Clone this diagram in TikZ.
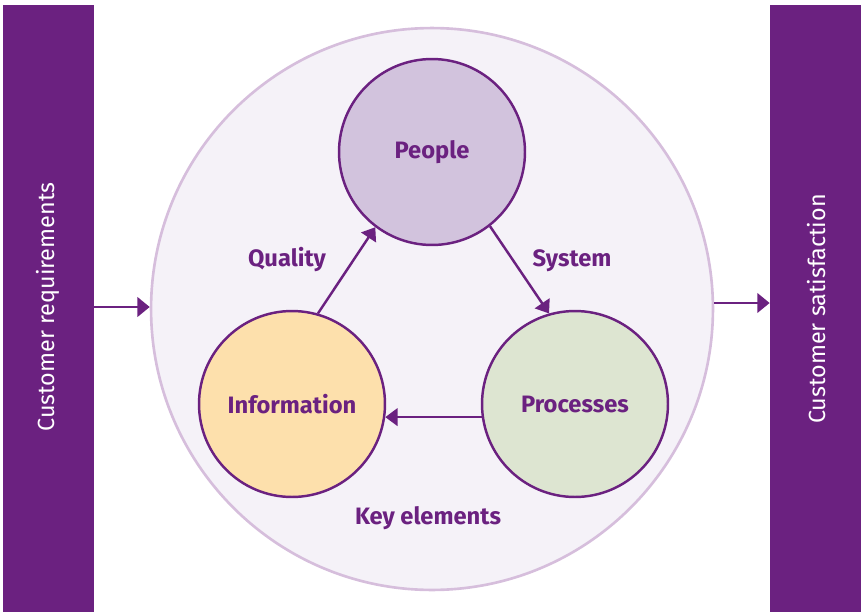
\documentclass[tikz,border=0pt]{standalone}
\usepackage{fontspec}
\setmainfont{Fira Sans}
\usetikzlibrary{arrows.meta}
\definecolor{plum}{HTML}{6B2180}
\definecolor{lilac}{HTML}{D6BEDC}
\definecolor{paleback}{HTML}{F5F2F8}
\definecolor{peoplefill}{HTML}{D2C3DD}
\definecolor{infofill}{HTML}{FDE0AC}
\definecolor{procfill}{HTML}{DDE5D1}

\begin{document}
\begin{tikzpicture}[x=0.02cm,y=-0.02cm,
  bar/.style={fill=plum,minimum width=1.82cm,minimum height=12.14cm,inner sep=0pt},
  bartext/.style={white,font=\fontsize{13.3}{15}\selectfont,rotate=90},
  element/.style={circle,draw=plum,line width=1.4pt,minimum size=3.72cm,inner sep=0pt,
    text=plum,font=\bfseries\fontsize{13.5}{15}\selectfont},
  label/.style={text=plum,font=\bfseries\fontsize{13.5}{15}\selectfont},
  link/.style={plum,line width=1.4pt,-{Triangle[length=7pt,width=10pt]}},
  feed/.style={plum,line width=1.6pt,-{Triangle[length=7pt,width=11pt]}}]

\useasboundingbox (0,0) rectangle (862,612);

%% side bars
\node [bar] (req) at (48.5,308.5) {};
\node [bar] (sat) at (815.5,308.5) {};
\node [bartext] at (48,307) {Customer requirements};
\node [bartext] at (817,309) {Customer satisfaction};

%% system circle
\node [circle,draw=lilac,fill=paleback,line width=1.5pt,minimum size=11.24cm,inner sep=0pt]
  (system) at (432,309) {};

%% key elements
\node [element,fill=peoplefill] (people) at (432,152) {People};
\node [element,fill=infofill]   (info)   at (292,404) {Information};
\node [element,fill=procfill]   (proc)   at (575,404) {Processes};

% arrows between elements
\draw [link] (info.74)    -- (people.233);
\draw [link] (people.308) -- (proc.106);
\draw [link] (proc.188)   -- (info.352);

% in and out
\draw [feed] (req.east |- 0,307) -- (system.west |- 0,307);
\draw [feed] (system.east |- 0,303) -- (sat.west |- 0,303);

% labels
\node [label] at (287,260) {Quality};
\node [label] at (572,261) {System};
\node [label] at (428,518) {Key elements};

\end{tikzpicture}
\end{document}
